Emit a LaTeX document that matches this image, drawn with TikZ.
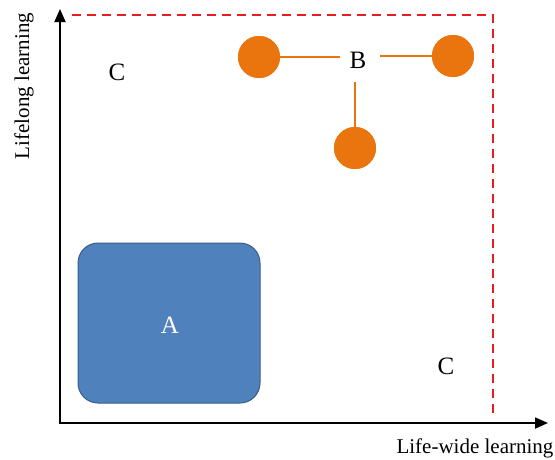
\documentclass[tikz,border=0pt]{standalone}
\usepackage{fontspec}
\setmainfont{Liberation Serif}
\usetikzlibrary{arrows.meta}
\definecolor{boxblue}{RGB}{79,129,189}
\definecolor{boxedge}{RGB}{56,93,138}
\definecolor{dotorange}{RGB}{234,116,14}
\definecolor{limitred}{RGB}{230,30,30}
\tikzset{
  axis/.style={line width=1.8pt,-{Triangle[length=13pt,width=11pt]}},
  limit/.style={limitred,dash pattern=on 9pt off 6pt,line width=1.8pt},
  dot/.style={circle,fill=dotorange,minimum size=42pt,inner sep=0pt},
  link/.style={dotorange,line width=1.8pt},
  lbl/.style={font=\fontsize{25}{28}\selectfont},
  axlbl/.style={font=\fontsize{21}{24}\selectfont}
}
\begin{document}
\begin{tikzpicture}[x=1pt,y=-1pt]
\useasboundingbox (0,0) rectangle (555,459);
\coordinate (ytip) at (60,9);
\coordinate (xtip) at (548,423);
\coordinate (ybase) at (60,424);
\coordinate (xbase) at (59,423);
\draw[axis] (ybase) -- (ytip);
\draw[axis] (xbase) -- (xtip);
\coordinate (r1) at (72,15);
\coordinate (r2) at (493,15);
\coordinate (r3) at (493,418);
\draw[limit] (r1) -- (r2) -- (r3);
\node[draw=boxedge,line width=1pt,fill=boxblue,rounded corners=20pt,minimum width=182pt,minimum height=160pt] (A) at (169,323) {};
\node[lbl,text=white] (Alabel) at (170,325) {A};
\node[dot] (d1) at (259,57) {};
\node[dot] (d2) at (453,56) {};
\node[dot] (d3) at (355,148) {};
\node[lbl,inner sep=0pt] (B) at (358,60) {B};
\coordinate (bl) at (340,57);
\coordinate (br) at (380,56);
\coordinate (bb) at (355,82);
\draw[link] (bl) -- (d1.center);
\draw[link] (br) -- (d2.center);
\draw[link] (bb) -- (d3.center);
\node[dot] at (259,57) {};
\node[dot] at (453,56) {};
\node[dot] at (355,148) {};
\node[lbl] (C1) at (117,72) {C};
\node[lbl] (C2) at (446,366) {C};
\node[axlbl,rotate=90] (ylbl) at (24,86) {Lifelong learning};
\node[axlbl] (xlbl) at (475,448) {Life-wide learning};
\end{tikzpicture}
\end{document}
